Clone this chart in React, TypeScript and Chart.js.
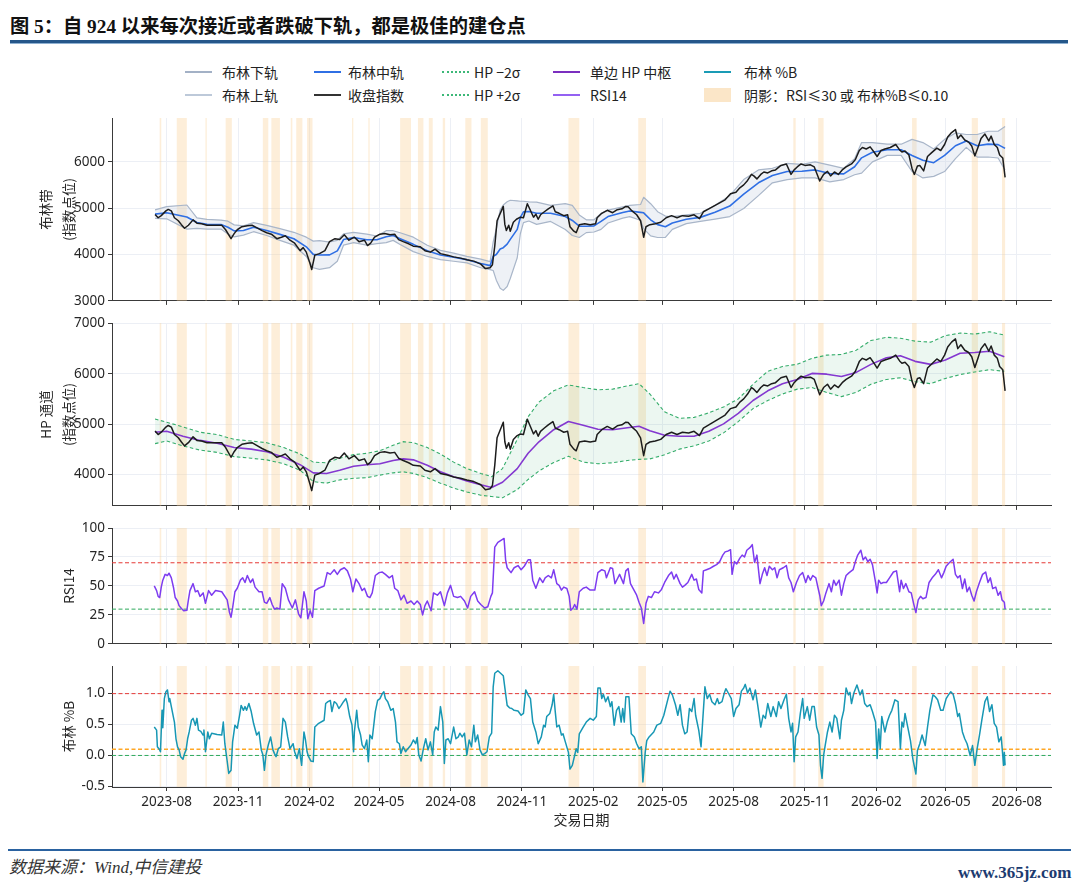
import React, { useEffect, useRef } from "react";
import { Chart, registerables } from "chart.js";

Chart.register(...registerables);

// ---------------- data ----------------
const xTickLabels = ["2023-08", "2023-11", "2024-02", "2024-05", "2024-08", "2024-11", "2025-02", "2025-05", "2025-08", "2025-11", "2026-02", "2026-05", "2026-08"];

const p1Ticks = [3000, 4000, 5000, 6000];
const p2Ticks = [4000, 5000, 6000, 7000];
const p3Ticks = [0, 25, 50, 75, 100];
const p4Ticks = [-0.5, 0, 0.5, 1.0];

const rsiLevels = [70, 30];
const pctbLevels = [1.0, 0.1, 0.0];

// 收盘指数 [date, close]
const closeIndex: [string, number][] = [
  ["2023-07-17", 4865], ["2023-07-21", 4794], ["2023-07-25", 4840], ["2023-07-31", 4942], ["2023-08-03", 4974], ["2023-08-07", 4942], ["2023-08-11", 4794], ["2023-08-16", 4729], ["2023-08-20", 4645], ["2023-08-24", 4568], ["2023-08-29", 4632],
  ["2023-09-04", 4748], ["2023-09-09", 4677], ["2023-09-15", 4665], ["2023-09-22", 4632], ["2023-09-30", 4632], ["2023-10-11", 4632], ["2023-10-16", 4535], ["2023-10-23", 4342], ["2023-10-27", 4452], ["2023-10-31", 4535],
  ["2023-11-06", 4600], ["2023-11-13", 4620], ["2023-11-19", 4632], ["2023-11-25", 4580], ["2023-12-02", 4516], ["2023-12-08", 4471], ["2023-12-14", 4439], ["2023-12-21", 4342], ["2023-12-27", 4374],
  ["2024-01-01", 4407], ["2024-01-07", 4310], ["2024-01-13", 4245], ["2024-01-20", 4084], ["2024-01-24", 4149], ["2024-01-28", 4052], ["2024-02-02", 3794], ["2024-02-04", 3678], ["2024-02-08", 3987], ["2024-02-14", 4020], ["2024-02-21", 4084], ["2024-02-27", 4278],
  ["2024-03-05", 4342], ["2024-03-11", 4323], ["2024-03-17", 4426], ["2024-03-23", 4310], ["2024-03-30", 4374], ["2024-04-05", 4278], ["2024-04-12", 4310], ["2024-04-16", 4194], ["2024-04-20", 4245], ["2024-04-25", 4374],
  ["2024-05-02", 4439], ["2024-05-08", 4452], ["2024-05-15", 4426], ["2024-05-21", 4439], ["2024-05-26", 4323], ["2024-06-01", 4278], ["2024-06-08", 4232], ["2024-06-14", 4181], ["2024-06-23", 4168], ["2024-06-29", 4084],
  ["2024-07-06", 4052], ["2024-07-12", 4116], ["2024-07-19", 4020], ["2024-07-28", 3987], ["2024-08-05", 3950], ["2024-08-14", 3923], ["2024-08-22", 3890], ["2024-08-31", 3858], ["2024-09-09", 3794], ["2024-09-15", 3697], ["2024-09-21", 3716], ["2024-09-24", 3780],
  ["2024-09-27", 4181], ["2024-09-30", 4729], ["2024-10-08", 5040], ["2024-10-10", 4650], ["2024-10-12", 4520], ["2024-10-15", 4632], ["2024-10-17", 4503], ["2024-10-21", 4697], ["2024-10-25", 4761], ["2024-10-30", 4806],
  ["2024-11-03", 4794], ["2024-11-08", 5097], ["2024-11-11", 4987], ["2024-11-16", 4806], ["2024-11-19", 4871], ["2024-11-22", 4761], ["2024-11-25", 4858], ["2024-11-30", 4923], ["2024-12-05", 4987], ["2024-12-11", 5052], ["2024-12-14", 4923], ["2024-12-19", 4890], ["2024-12-25", 4839], ["2024-12-30", 4858],
  ["2025-01-02", 4600], ["2025-01-07", 4503], ["2025-01-10", 4471], ["2025-01-14", 4645], ["2025-01-21", 4665], ["2025-01-28", 4645], ["2025-02-04", 4665], ["2025-02-06", 4794], ["2025-02-12", 4890], ["2025-02-19", 4955], ["2025-02-26", 4903],
  ["2025-03-04", 4968], ["2025-03-10", 4987], ["2025-03-15", 5039], ["2025-03-18", 5032], ["2025-03-23", 4942], ["2025-03-29", 4858], ["2025-04-03", 4729], ["2025-04-07", 4374], ["2025-04-10", 4600], ["2025-04-15", 4645], ["2025-04-22", 4665], ["2025-04-29", 4697],
  ["2025-05-06", 4794], ["2025-05-13", 4839], ["2025-05-20", 4794], ["2025-05-27", 4839], ["2025-06-04", 4826], ["2025-06-11", 4858], ["2025-06-18", 4774], ["2025-06-23", 4923], ["2025-06-30", 4987],
  ["2025-07-07", 5052], ["2025-07-14", 5116], ["2025-07-21", 5181], ["2025-07-28", 5310], ["2025-08-04", 5342], ["2025-08-09", 5439], ["2025-08-14", 5503], ["2025-08-19", 5600], ["2025-08-24", 5729], ["2025-08-27", 5697], ["2025-08-31", 5632],
  ["2025-09-05", 5729], ["2025-09-09", 5781], ["2025-09-14", 5761], ["2025-09-19", 5806], ["2025-09-24", 5826], ["2025-10-01", 5923], ["2025-10-08", 5955], ["2025-10-14", 5729], ["2025-10-18", 5826], ["2025-10-22", 5890], ["2025-10-27", 5955],
  ["2025-11-01", 5923], ["2025-11-08", 5935], ["2025-11-13", 5890], ["2025-11-16", 5761], ["2025-11-20", 5587], ["2025-11-25", 5729], ["2025-11-30", 5794], ["2025-12-04", 5697], ["2025-12-09", 5781], ["2025-12-14", 5729], ["2025-12-19", 5826], ["2025-12-24", 5890], ["2025-12-31", 5955],
  ["2026-01-05", 6052], ["2026-01-10", 6245], ["2026-01-14", 6310], ["2026-01-19", 6277], ["2026-01-24", 6323], ["2026-01-29", 6213], ["2026-02-02", 6116], ["2026-02-07", 6245], ["2026-02-12", 6277], ["2026-02-19", 6310], ["2026-02-26", 6374],
  ["2026-03-03", 6258], ["2026-03-06", 6213], ["2026-03-10", 6232], ["2026-03-15", 6148], ["2026-03-19", 5858], ["2026-03-22", 5729], ["2026-03-26", 5910], ["2026-03-29", 5923], ["2026-04-03", 5806], ["2026-04-08", 6116], ["2026-04-13", 6193], ["2026-04-20", 6297], ["2026-04-25", 6245], ["2026-04-30", 6374],
  ["2026-05-04", 6535], ["2026-05-09", 6632], ["2026-05-14", 6697], ["2026-05-17", 6503], ["2026-05-21", 6580], ["2026-05-26", 6471], ["2026-05-31", 6426], ["2026-06-04", 6342], ["2026-06-08", 6129], ["2026-06-12", 6310], ["2026-06-16", 6503], ["2026-06-21", 6600], ["2026-06-26", 6452], ["2026-06-29", 6555],
  ["2026-07-03", 6374], ["2026-07-07", 6310], ["2026-07-10", 6148], ["2026-07-14", 6084], ["2026-07-17", 5664],
];

// 布林带 [date, upper, mid, lower]
const bollinger: [string, number, number, number][] = [
  ["2023-07-17", 4965, 4872, 4780], ["2023-08-01", 5035, 4903, 4771], ["2023-08-27", 5069, 4809, 4549], ["2023-09-09", 4792, 4690, 4563], ["2023-09-22", 4757, 4653, 4549],
  ["2023-10-10", 4743, 4646, 4549], ["2023-10-19", 4720, 4590, 4445], ["2023-10-27", 4640, 4510, 4380], ["2023-11-08", 4618, 4519, 4420], ["2023-11-21", 4688, 4590, 4493],
  ["2023-12-08", 4630, 4520, 4410], ["2023-12-25", 4560, 4435, 4306], ["2024-01-12", 4480, 4341, 4202], ["2024-01-28", 4375, 4167, 3959], ["2024-02-06", 4290, 4003, 3716],
  ["2024-02-14", 4300, 3990, 3681], ["2024-02-27", 4270, 3993, 3716], ["2024-03-08", 4306, 4080, 3855], ["2024-03-16", 4445, 4323, 4202], ["2024-03-29", 4480, 4368, 4257],
  ["2024-04-15", 4440, 4320, 4202], ["2024-04-28", 4400, 4320, 4237], ["2024-05-10", 4514, 4385, 4257], ["2024-05-19", 4514, 4410, 4306], ["2024-05-28", 4470, 4343, 4216],
  ["2024-06-14", 4375, 4220, 4063], ["2024-07-02", 4202, 4080, 3959], ["2024-07-19", 4090, 3990, 3890], ["2024-08-05", 4029, 3942, 3855], ["2024-08-22", 3959, 3890, 3820],
  ["2024-09-09", 3900, 3808, 3716], ["2024-09-21", 3848, 3761, 3674], ["2024-09-25", 4275, 3965, 3655], ["2024-09-29", 4552, 4000, 3447], ["2024-10-04", 4965, 4120, 3275],
  ["2024-10-08", 5069, 4148, 3227], ["2024-10-13", 5140, 4225, 3310], ["2024-10-17", 5172, 4327, 3482], ["2024-10-26", 5158, 4544, 3930], ["2024-10-30", 5150, 4800, 4448],
  ["2024-11-03", 5150, 4920, 4690], ["2024-11-10", 5138, 4930, 4724], ["2024-11-20", 5130, 4890, 4650], ["2024-12-08", 5062, 4890, 4715], ["2024-12-27", 5097, 4820, 4542],
  ["2025-01-05", 5062, 4736, 4410], ["2025-01-14", 4854, 4611, 4368], ["2025-01-23", 4750, 4611, 4473], ["2025-02-02", 4750, 4618, 4486], ["2025-02-11", 4889, 4715, 4542],
  ["2025-02-20", 4958, 4820, 4681], ["2025-03-11", 5028, 4906, 4785], ["2025-03-20", 5062, 4940, 4819], ["2025-04-03", 5080, 4910, 4740], ["2025-04-07", 5236, 4900, 4560],
  ["2025-04-16", 5097, 4750, 4403], ["2025-04-25", 4924, 4646, 4368], ["2025-05-05", 4830, 4600, 4370], ["2025-05-14", 4820, 4681, 4542], ["2025-06-01", 4854, 4760, 4667],
  ["2025-06-19", 4889, 4802, 4715], ["2025-07-08", 5062, 4913, 4764], ["2025-07-27", 5271, 5045, 4820], ["2025-08-14", 5618, 5305, 4993], ["2025-09-02", 5826, 5548, 5271],
  ["2025-09-20", 5861, 5705, 5548], ["2025-10-09", 5965, 5791, 5618], ["2025-10-28", 5944, 5798, 5653], ["2025-11-14", 6000, 5826, 5653], ["2025-12-03", 5930, 5750, 5569],
  ["2025-12-21", 5861, 5740, 5618], ["2026-01-04", 6069, 5895, 5722], ["2026-01-13", 6416, 6086, 5757], ["2026-01-27", 6416, 6208, 6000], ["2026-02-15", 6381, 6260, 6139],
  ["2026-03-05", 6381, 6260, 6139], ["2026-03-19", 6485, 6138, 5791], ["2026-04-02", 6416, 6034, 5653], ["2026-04-16", 6278, 5982, 5687], ["2026-04-30", 6485, 6138, 5791],
  ["2026-05-14", 6624, 6347, 6069], ["2026-05-28", 6590, 6451, 6312], ["2026-06-11", 6590, 6347, 6104], ["2026-06-25", 6660, 6382, 6104], ["2026-07-08", 6660, 6372, 6083],
  ["2026-07-17", 6763, 6291, 5820],
];

// HP 通道 [date, trend, +2σ, −2σ]
const hpChannel: [string, number, number, number][] = [
  ["2023-07-17", 4839, 5103, 4613], ["2023-08-01", 4858, 5039, 4665], ["2023-08-22", 4761, 4945, 4568], ["2023-09-13", 4677, 4839, 4484], ["2023-10-05", 4620, 4794, 4439],
  ["2023-10-27", 4535, 4697, 4355], ["2023-11-18", 4503, 4665, 4323], ["2023-12-08", 4452, 4632, 4290], ["2023-12-30", 4342, 4535, 4213], ["2024-01-20", 4194, 4407, 4084],
  ["2024-02-06", 4032, 4245, 3858], ["2024-02-23", 4020, 4232, 3826], ["2024-03-11", 4084, 4323, 3891], ["2024-03-29", 4162, 4394, 3923], ["2024-04-15", 4194, 4420, 3936],
  ["2024-05-02", 4213, 4471, 3987], ["2024-05-19", 4278, 4581, 4032], ["2024-06-01", 4310, 4652, 4052], ["2024-06-14", 4290, 4632, 4020], ["2024-07-02", 4181, 4535, 3936],
  ["2024-07-19", 4052, 4407, 3826], ["2024-08-05", 3955, 4245, 3729], ["2024-08-22", 3871, 4116, 3652], ["2024-09-09", 3794, 4020, 3587], ["2024-09-23", 3742, 3955, 3560],
  ["2024-10-07", 3845, 4116, 3536], ["2024-10-26", 4116, 4697, 3697], ["2024-11-09", 4420, 5148, 3900], ["2024-11-23", 4650, 5439, 4068], ["2024-12-12", 4890, 5664, 4236],
  ["2024-12-31", 5052, 5781, 4360], ["2025-01-19", 4980, 5729, 4245], ["2025-02-07", 4900, 5684, 4213], ["2025-02-26", 4890, 5697, 4232], ["2025-03-17", 4930, 5761, 4278],
  ["2025-04-01", 4960, 5806, 4300], ["2025-04-15", 4870, 5600, 4310], ["2025-05-04", 4781, 5245, 4390], ["2025-05-23", 4761, 5116, 4503], ["2025-06-11", 4761, 5135, 4568],
  ["2025-06-30", 4858, 5226, 4665], ["2025-07-19", 5006, 5342, 4826], ["2025-08-07", 5213, 5503, 5052], ["2025-08-26", 5471, 5794, 5310], ["2025-09-14", 5664, 6052, 5471],
  ["2025-10-03", 5806, 6148, 5600], ["2025-10-22", 5890, 6193, 5697], ["2025-11-10", 6010, 6310, 5729], ["2025-11-29", 5995, 6374, 5632], ["2025-12-18", 5950, 6387, 5548],
  ["2026-01-06", 6030, 6471, 5632], ["2026-01-25", 6190, 6664, 5794], ["2026-02-14", 6320, 6729, 5890], ["2026-03-04", 6360, 6710, 5923], ["2026-03-23", 6250, 6652, 5845],
  ["2026-04-12", 6190, 6632, 5806], ["2026-05-01", 6277, 6761, 5910], ["2026-05-20", 6410, 6813, 5987], ["2026-06-08", 6425, 6793, 6039], ["2026-06-27", 6452, 6838, 6084],
  ["2026-07-16", 6342, 6774, 6052],
];

// RSI14 [date, value]
const rsi14: [string, number][] = [
  ["2023-07-16", 50], ["2023-07-19", 46], ["2023-07-21", 41], ["2023-07-23", 40], ["2023-07-25", 49], ["2023-07-27", 55], ["2023-07-30", 60], ["2023-08-02", 59], ["2023-08-04", 61], ["2023-08-07", 57],
  ["2023-08-10", 48], ["2023-08-12", 40], ["2023-08-15", 37], ["2023-08-17", 33], ["2023-08-20", 30.5], ["2023-08-23", 28.6], ["2023-08-27", 29], ["2023-08-29", 38], ["2023-08-31", 46], ["2023-09-04", 52],
  ["2023-09-07", 45], ["2023-09-10", 46], ["2023-09-13", 41], ["2023-09-17", 44], ["2023-09-20", 35], ["2023-09-24", 46], ["2023-09-28", 42], ["2023-10-03", 46], ["2023-10-11", 45], ["2023-10-18", 38],
  ["2023-10-21", 27], ["2023-10-23", 23], ["2023-10-25", 31], ["2023-10-28", 45], ["2023-10-31", 48], ["2023-11-04", 55], ["2023-11-07", 57], ["2023-11-10", 53], ["2023-11-13", 59], ["2023-11-17", 53],
  ["2023-11-20", 56], ["2023-11-23", 49], ["2023-11-28", 45], ["2023-12-02", 45], ["2023-12-05", 36], ["2023-12-08", 35], ["2023-12-12", 40], ["2023-12-15", 34], ["2023-12-18", 30], ["2023-12-21", 31],
  ["2023-12-25", 30], ["2023-12-28", 52], ["2024-01-01", 48], ["2024-01-05", 38], ["2024-01-10", 31], ["2024-01-14", 38], ["2024-01-18", 26], ["2024-01-21", 22.5], ["2024-01-25", 45], ["2024-01-28", 37],
  ["2024-01-30", 21.7], ["2024-02-02", 28.6], ["2024-02-05", 23], ["2024-02-08", 46], ["2024-02-13", 48], ["2024-02-20", 50], ["2024-02-24", 61.5], ["2024-02-28", 60], ["2024-03-04", 64], ["2024-03-08", 60],
  ["2024-03-12", 64], ["2024-03-17", 65.7], ["2024-03-21", 63], ["2024-03-25", 56], ["2024-03-28", 45], ["2024-04-01", 56], ["2024-04-05", 52], ["2024-04-09", 46], ["2024-04-12", 48], ["2024-04-16", 41],
  ["2024-04-19", 40], ["2024-04-22", 44], ["2024-04-26", 59], ["2024-05-01", 61.5], ["2024-05-05", 62], ["2024-05-09", 60], ["2024-05-14", 57], ["2024-05-18", 59], ["2024-05-21", 48], ["2024-05-25", 46],
  ["2024-05-29", 38], ["2024-06-02", 42], ["2024-06-06", 35], ["2024-06-11", 37], ["2024-06-15", 34], ["2024-06-19", 37], ["2024-06-23", 34], ["2024-06-26", 25], ["2024-06-29", 33], ["2024-07-02", 37],
  ["2024-07-07", 28.6], ["2024-07-10", 44], ["2024-07-15", 42], ["2024-07-19", 45], ["2024-07-24", 33], ["2024-07-28", 44], ["2024-08-01", 50.5], ["2024-08-05", 41], ["2024-08-10", 40], ["2024-08-14", 41],
  ["2024-08-19", 37], ["2024-08-23", 31], ["2024-08-27", 41], ["2024-09-01", 45], ["2024-09-05", 37], ["2024-09-09", 34], ["2024-09-14", 31], ["2024-09-18", 32], ["2024-09-22", 41], ["2024-09-24", 44],
  ["2024-09-27", 83.5], ["2024-10-01", 87.6], ["2024-10-09", 91], ["2024-10-11", 72.5], ["2024-10-13", 65.7], ["2024-10-18", 61.5], ["2024-10-22", 65.7], ["2024-10-27", 67.6], ["2024-10-31", 64], ["2024-11-04", 67],
  ["2024-11-09", 72.5], ["2024-11-12", 72.5], ["2024-11-15", 55], ["2024-11-19", 48], ["2024-11-24", 57], ["2024-11-28", 53], ["2024-12-01", 57], ["2024-12-05", 59], ["2024-12-09", 57], ["2024-12-12", 64],
  ["2024-12-16", 52], ["2024-12-19", 50.5], ["2024-12-22", 46.4], ["2024-12-25", 49], ["2024-12-29", 47.8], ["2025-01-01", 41], ["2025-01-03", 29], ["2025-01-06", 31], ["2025-01-08", 34], ["2025-01-11", 30],
  ["2025-01-14", 45], ["2025-01-19", 48], ["2025-01-23", 49], ["2025-01-28", 46.4], ["2025-02-03", 46.4], ["2025-02-07", 61.5], ["2025-02-12", 64], ["2025-02-16", 63], ["2025-02-18", 57], ["2025-02-23", 65.7],
  ["2025-02-26", 65], ["2025-03-01", 52], ["2025-03-04", 56], ["2025-03-07", 60], ["2025-03-12", 52], ["2025-03-15", 63], ["2025-03-18", 65], ["2025-03-21", 52], ["2025-03-25", 47], ["2025-03-29", 42],
  ["2025-04-01", 36], ["2025-04-04", 31], ["2025-04-07", 17.6], ["2025-04-10", 35], ["2025-04-13", 41], ["2025-04-17", 40], ["2025-04-21", 45], ["2025-04-26", 44], ["2025-04-30", 47], ["2025-05-04", 53],
  ["2025-05-09", 59], ["2025-05-13", 62], ["2025-05-16", 56], ["2025-05-19", 60], ["2025-05-24", 52], ["2025-05-27", 49], ["2025-05-30", 50.5], ["2025-06-03", 53], ["2025-06-08", 60], ["2025-06-11", 55],
  ["2025-06-14", 56], ["2025-06-17", 47], ["2025-06-21", 44], ["2025-06-23", 63], ["2025-06-27", 64], ["2025-07-01", 65], ["2025-07-06", 67], ["2025-07-10", 68.4], ["2025-07-14", 71], ["2025-07-18", 76.6],
  ["2025-07-21", 79.4], ["2025-07-25", 80.2], ["2025-07-28", 81.3], ["2025-07-30", 60], ["2025-08-02", 71], ["2025-08-05", 69], ["2025-08-09", 74], ["2025-08-12", 76.6], ["2025-08-15", 75], ["2025-08-18", 80.8],
  ["2025-08-22", 83], ["2025-08-25", 85.7], ["2025-08-28", 70.3], ["2025-08-31", 76.6], ["2025-09-04", 52], ["2025-09-07", 60], ["2025-09-10", 65.7], ["2025-09-13", 59], ["2025-09-16", 67], ["2025-09-20", 64],
  ["2025-09-23", 65.7], ["2025-09-26", 57], ["2025-09-29", 64], ["2025-10-04", 65.7], ["2025-10-08", 67.6], ["2025-10-11", 57], ["2025-10-14", 53], ["2025-10-17", 45], ["2025-10-21", 53], ["2025-10-25", 59],
  ["2025-10-29", 61.5], ["2025-11-02", 53], ["2025-11-05", 59], ["2025-11-08", 55], ["2025-11-11", 59], ["2025-11-15", 57], ["2025-11-18", 47.8], ["2025-11-20", 42], ["2025-11-22", 33], ["2025-11-25", 37],
  ["2025-11-28", 44], ["2025-12-02", 52], ["2025-12-05", 45], ["2025-12-08", 55], ["2025-12-11", 50.5], ["2025-12-15", 55], ["2025-12-18", 42], ["2025-12-21", 52], ["2025-12-24", 59], ["2025-12-28", 61.5],
  ["2026-01-02", 64], ["2026-01-05", 71], ["2026-01-08", 76.6], ["2026-01-12", 80.8], ["2026-01-15", 72.5], ["2026-01-18", 75], ["2026-01-21", 71], ["2026-01-24", 73], ["2026-01-27", 68.4], ["2026-01-31", 53],
  ["2026-02-02", 44], ["2026-02-04", 55], ["2026-02-07", 52], ["2026-02-10", 53], ["2026-02-14", 53], ["2026-02-18", 57], ["2026-02-23", 62], ["2026-02-27", 63], ["2026-03-03", 45], ["2026-03-05", 55],
  ["2026-03-08", 47.8], ["2026-03-11", 52], ["2026-03-15", 45], ["2026-03-18", 44], ["2026-03-21", 35], ["2026-03-24", 27], ["2026-03-27", 38], ["2026-03-30", 41], ["2026-04-02", 39], ["2026-04-06", 40],
  ["2026-04-10", 53], ["2026-04-14", 57], ["2026-04-18", 60], ["2026-04-22", 64], ["2026-04-26", 57], ["2026-04-29", 61.5], ["2026-05-02", 67], ["2026-05-06", 70], ["2026-05-11", 73], ["2026-05-14", 60],
  ["2026-05-17", 57], ["2026-05-20", 59], ["2026-05-23", 47.8], ["2026-05-26", 56], ["2026-05-29", 45], ["2026-06-01", 49], ["2026-06-04", 42], ["2026-06-07", 37], ["2026-06-10", 45], ["2026-06-14", 53],
  ["2026-06-18", 60], ["2026-06-22", 62], ["2026-06-25", 53], ["2026-06-28", 57], ["2026-07-01", 47.8], ["2026-07-05", 49], ["2026-07-08", 42], ["2026-07-11", 45], ["2026-07-13", 38], ["2026-07-16", 36],
  ["2026-07-17", 30],
];

// 布林 %B [date, value]
const pctB: [string, number][] = [
  ["2023-07-16", 0.46], ["2023-07-19", 0.41], ["2023-07-20", 0.14], ["2023-07-23", 0.09], ["2023-07-24", 0.06], ["2023-07-26", 0.73], ["2023-07-27", 0.45], ["2023-07-29", 0.92], ["2023-07-31", 1.03], ["2023-08-02", 1.06],
  ["2023-08-04", 0.87], ["2023-08-05", 0.92], ["2023-08-07", 0.79], ["2023-08-10", 0.6], ["2023-08-11", 0.54], ["2023-08-13", 0.27], ["2023-08-15", 0.14], ["2023-08-17", 0.09], ["2023-08-19", -0.02], ["2023-08-22", -0.06],
  ["2023-08-24", 0.03], ["2023-08-26", 0.09], ["2023-08-28", 0.27], ["2023-08-30", 0.38], ["2023-09-02", 0.57], ["2023-09-04", 0.6], ["2023-09-07", 0.49], ["2023-09-09", 0.6], ["2023-09-11", 0.41], ["2023-09-14", 0.39],
  ["2023-09-17", 0.33], ["2023-09-18", 0.41], ["2023-09-20", 0.06], ["2023-09-23", 0.38], ["2023-09-25", 0.27], ["2023-09-28", 0.36], ["2023-10-05", 0.34], ["2023-10-11", 0.33], ["2023-10-13", 0.54], ["2023-10-15", 0.19],
  ["2023-10-18", -0.09], ["2023-10-20", -0.29], ["2023-10-23", -0.24], ["2023-10-25", 0.22], ["2023-10-28", 0.49], ["2023-10-31", 0.44], ["2023-11-03", 0.65], ["2023-11-05", 0.81], ["2023-11-08", 0.73], ["2023-11-10", 0.79],
  ["2023-11-12", 0.73], ["2023-11-15", 0.84], ["2023-11-18", 0.71], ["2023-11-21", 0.52], ["2023-11-25", 0.33], ["2023-11-28", 0.38], ["2023-12-01", 0.09], ["2023-12-03", 0.01], ["2023-12-05", -0.24], ["2023-12-07", 0.01],
  ["2023-12-10", 0.17], ["2023-12-13", 0.3], ["2023-12-16", 0.09], ["2023-12-18", 0.03], ["2023-12-20", -0.02], ["2023-12-23", 0.11], ["2023-12-26", 0.14], ["2023-12-29", 0.6], ["2024-01-01", 0.54], ["2024-01-04", 0.3],
  ["2024-01-07", 0.11], ["2024-01-11", 0.19], ["2024-01-13", 0.06], ["2024-01-16", -0.05], ["2024-01-19", 0.11], ["2024-01-22", -0.16], ["2024-01-25", 0.38], ["2024-01-27", 0.25], ["2024-01-29", 0.06], ["2024-01-31", -0.02],
  ["2024-02-03", -0.09], ["2024-02-06", -0.1], ["2024-02-08", 0.46], ["2024-02-13", 0.52], ["2024-02-20", 0.57], ["2024-02-22", 0.84], ["2024-02-25", 0.87], ["2024-02-28", 0.89], ["2024-03-01", 0.71], ["2024-03-04", 0.87],
  ["2024-03-07", 0.84], ["2024-03-10", 0.76], ["2024-03-13", 0.81], ["2024-03-16", 0.87], ["2024-03-19", 0.92], ["2024-03-21", 0.84], ["2024-03-24", 0.63], ["2024-03-27", 0.49], ["2024-03-29", 0.06], ["2024-03-30", 0.38],
  ["2024-04-02", 0.73], ["2024-04-04", 0.46], ["2024-04-07", 0.33], ["2024-04-09", 0.17], ["2024-04-12", 0.11], ["2024-04-15", 0.25], ["2024-04-17", -0.1], ["2024-04-19", 0.33], ["2024-04-22", 0.27], ["2024-04-26", 0.71],
  ["2024-04-29", 0.89], ["2024-05-02", 0.92], ["2024-05-05", 1.0], ["2024-05-07", 1.03], ["2024-05-09", 0.92], ["2024-05-12", 0.87], ["2024-05-16", 0.73], ["2024-05-19", 0.76], ["2024-05-22", 0.54], ["2024-05-24", 0.22],
  ["2024-05-27", 0.19], ["2024-05-29", 0.03], ["2024-06-01", 0.14], ["2024-06-04", 0.06], ["2024-06-07", 0.11], ["2024-06-11", 0.17], ["2024-06-14", 0.25], ["2024-06-17", 0.19], ["2024-06-19", 0.29], ["2024-06-21", 0.01],
  ["2024-06-24", -0.09], ["2024-06-27", 0.11], ["2024-06-30", 0.27], ["2024-07-03", 0.09], ["2024-07-06", 0.22], ["2024-07-09", 0.01], ["2024-07-11", 0.38], ["2024-07-13", 0.46], ["2024-07-16", 0.41], ["2024-07-19", 0.79],
  ["2024-07-22", 0.54], ["2024-07-24", -0.13], ["2024-07-26", 0.25], ["2024-07-29", 0.27], ["2024-08-01", 0.19], ["2024-08-05", 0.46], ["2024-08-08", 0.27], ["2024-08-11", 0.3], ["2024-08-13", 0.36], ["2024-08-16", 0.3],
  ["2024-08-19", 0.36], ["2024-08-22", 0.01], ["2024-08-25", 0.25], ["2024-08-28", 0.14], ["2024-08-31", 0.49], ["2024-09-02", 0.22], ["2024-09-05", 0.33], ["2024-09-08", 0.09], ["2024-09-11", 0.01], ["2024-09-14", 0.03],
  ["2024-09-17", 0.06], ["2024-09-20", 0.3], ["2024-09-23", 0.36], ["2024-09-25", 1.11], ["2024-09-27", 1.33], ["2024-10-01", 1.37], ["2024-10-08", 1.29], ["2024-10-11", 1.0], ["2024-10-13", 0.81], ["2024-10-16", 0.77],
  ["2024-10-19", 0.76], ["2024-10-22", 0.73], ["2024-10-27", 0.72], ["2024-10-31", 0.65], ["2024-11-03", 0.68], ["2024-11-06", 1.06], ["2024-11-09", 0.98], ["2024-11-12", 0.92], ["2024-11-15", 0.54], ["2024-11-19", 0.38],
  ["2024-11-22", 0.19], ["2024-11-26", 0.3], ["2024-11-29", 0.49], ["2024-12-01", 0.46], ["2024-12-03", 0.63], ["2024-12-07", 0.68], ["2024-12-10", 0.82], ["2024-12-12", 0.99], ["2024-12-14", 0.71], ["2024-12-16", 0.46],
  ["2024-12-19", 0.49], ["2024-12-22", 0.33], ["2024-12-24", 0.35], ["2024-12-27", 0.22], ["2024-12-31", 0.05], ["2025-01-02", -0.22], ["2025-01-05", -0.16], ["2025-01-08", 0.0], ["2025-01-10", 0.11], ["2025-01-12", 0.05],
  ["2025-01-14", 0.35], ["2025-01-19", 0.46], ["2025-01-23", 0.54], ["2025-01-28", 0.6], ["2025-02-01", 0.57], ["2025-02-05", 0.63], ["2025-02-07", 1.09], ["2025-02-10", 1.09], ["2025-02-12", 0.92], ["2025-02-14", 0.99],
  ["2025-02-17", 0.87], ["2025-02-20", 0.95], ["2025-02-23", 0.79], ["2025-02-25", 0.87], ["2025-02-28", 0.49], ["2025-03-03", 0.73], ["2025-03-06", 0.79], ["2025-03-09", 0.54], ["2025-03-11", 0.76], ["2025-03-13", 0.54],
  ["2025-03-15", 0.95], ["2025-03-19", 0.95], ["2025-03-22", 0.35], ["2025-03-26", 0.3], ["2025-03-29", 0.19], ["2025-04-01", 0.11], ["2025-04-04", 0.14], ["2025-04-06", -0.43], ["2025-04-09", 0.05], ["2025-04-11", 0.24],
  ["2025-04-14", 0.3], ["2025-04-20", 0.38], ["2025-04-24", 0.49], ["2025-04-29", 0.52], ["2025-05-03", 0.65], ["2025-05-08", 0.9], ["2025-05-11", 1.04], ["2025-05-14", 0.98], ["2025-05-18", 0.82], ["2025-05-21", 0.65],
  ["2025-05-24", 0.82], ["2025-05-27", 0.49], ["2025-05-30", 0.35], ["2025-06-02", 0.38], ["2025-06-05", 0.76], ["2025-06-08", 0.71], ["2025-06-11", 0.92], ["2025-06-13", 0.65], ["2025-06-17", 0.41], ["2025-06-20", 0.14],
  ["2025-06-22", 0.54], ["2025-06-25", 1.11], ["2025-06-28", 0.92], ["2025-07-01", 0.99], ["2025-07-04", 0.87], ["2025-07-08", 0.82], ["2025-07-11", 0.92], ["2025-07-13", 0.84], ["2025-07-17", 0.87], ["2025-07-20", 1.01],
  ["2025-07-22", 1.08], ["2025-07-26", 0.99], ["2025-07-29", 0.92], ["2025-08-01", 0.63], ["2025-08-04", 0.76], ["2025-08-08", 0.82], ["2025-08-11", 1.04], ["2025-08-14", 1.09], ["2025-08-16", 1.15], ["2025-08-19", 1.01],
  ["2025-08-22", 1.09], ["2025-08-26", 0.9], ["2025-08-29", 1.06], ["2025-09-01", 0.82], ["2025-09-05", 0.46], ["2025-09-08", 0.65], ["2025-09-11", 0.6], ["2025-09-14", 0.84], ["2025-09-18", 0.63], ["2025-09-21", 0.79],
  ["2025-09-25", 0.63], ["2025-09-28", 0.87], ["2025-10-01", 0.76], ["2025-10-05", 0.9], ["2025-10-08", 0.99], ["2025-10-11", 0.6], ["2025-10-14", 0.38], ["2025-10-16", 0.52], ["2025-10-18", -0.1], ["2025-10-20", 0.3],
  ["2025-10-23", 0.38], ["2025-10-26", 0.68], ["2025-10-29", 0.92], ["2025-10-31", 0.6], ["2025-11-04", 0.79], ["2025-11-07", 0.57], ["2025-11-10", 0.79], ["2025-11-13", 0.79], ["2025-11-16", 0.46], ["2025-11-19", 0.33],
  ["2025-11-21", -0.16], ["2025-11-23", -0.37], ["2025-11-25", 0.0], ["2025-11-27", 0.16], ["2025-11-30", 0.38], ["2025-12-03", 0.54], ["2025-12-06", 0.38], ["2025-12-09", 0.65], ["2025-12-12", 0.6], ["2025-12-16", 0.27],
  ["2025-12-18", 0.57], ["2025-12-21", 0.73], ["2025-12-24", 1.09], ["2025-12-27", 0.98], ["2025-12-29", 1.02], ["2025-12-31", 0.84], ["2026-01-03", 1.01], ["2026-01-07", 1.14], ["2026-01-11", 0.98], ["2026-01-14", 1.06],
  ["2026-01-17", 0.84], ["2026-01-20", 0.79], ["2026-01-24", 0.82], ["2026-01-27", 0.71], ["2026-01-31", 0.54], ["2026-02-02", -0.05], ["2026-02-04", 0.43], ["2026-02-06", 0.11], ["2026-02-08", 0.63], ["2026-02-12", 0.38],
  ["2026-02-15", 0.54], ["2026-02-18", 0.65], ["2026-02-21", 0.73], ["2026-02-25", 0.9], ["2026-03-01", 0.87], ["2026-03-04", 0.11], ["2026-03-06", 0.54], ["2026-03-08", 0.46], ["2026-03-10", 0.68], ["2026-03-13", 0.49],
  ["2026-03-17", 0.24], ["2026-03-20", -0.05], ["2026-03-24", -0.3], ["2026-03-26", 0.08], ["2026-03-29", 0.19], ["2026-04-01", 0.33], ["2026-04-05", 0.16], ["2026-04-08", 0.46], ["2026-04-11", 0.73], ["2026-04-15", 0.98],
  ["2026-04-18", 0.95], ["2026-04-21", 0.9], ["2026-04-25", 0.73], ["2026-04-28", 0.73], ["2026-05-02", 0.92], ["2026-05-05", 0.98], ["2026-05-08", 1.03], ["2026-05-11", 0.99], ["2026-05-14", 0.84], ["2026-05-17", 0.63],
  ["2026-05-19", 0.68], ["2026-05-23", 0.38], ["2026-05-26", 0.27], ["2026-05-29", 0.19], ["2026-06-02", 0.0], ["2026-06-05", 0.16], ["2026-06-08", -0.16], ["2026-06-11", 0.11], ["2026-06-14", 0.33], ["2026-06-17", 0.57],
  ["2026-06-21", 0.87], ["2026-06-24", 0.95], ["2026-06-27", 0.71], ["2026-06-30", 0.82], ["2026-07-03", 0.52], ["2026-07-06", 0.46], ["2026-07-09", 0.22], ["2026-07-12", 0.3], ["2026-07-14", 0.0], ["2026-07-15", -0.16],
  ["2026-07-16", 0.05], ["2026-07-17", -0.16],
];

// 阴影区间 (RSI≤30 或 布林%B≤0.10) [start, end]
const shadeSpans: [string, string][] = [
  ["2023-07-23", "2023-07-25"], ["2023-08-14", "2023-08-27"], ["2023-09-20", "2023-09-21"], ["2023-10-16", "2023-10-24"], ["2023-12-03", "2023-12-10"],
  ["2023-12-14", "2023-12-25"], ["2024-01-08", "2024-01-10"], ["2024-01-15", "2024-01-23"], ["2024-01-29", "2024-02-05"], ["2024-03-27", "2024-03-28"],
  ["2024-04-17", "2024-04-18"], ["2024-05-28", "2024-06-11"], ["2024-06-20", "2024-06-27"], ["2024-07-04", "2024-07-09"], ["2024-07-22", "2024-07-25"],
  ["2024-08-20", "2024-08-28"], ["2024-09-09", "2024-09-18"], ["2024-12-31", "2025-01-14"], ["2025-03-31", "2025-04-10"], ["2025-10-17", "2025-10-20"],
  ["2025-11-18", "2025-11-25"], ["2026-03-19", "2026-03-25"], ["2026-06-04", "2026-06-12"], ["2026-07-13", "2026-07-17"],
];

// ---------------- helpers ----------------
const DAY_MS = 86400000;
const dayOf = (s: string) => {
  const p = s.split("-").map(Number);
  return Date.UTC(p[0], p[1] - 1, p[2] || 1) / DAY_MS;
};
const BASE = dayOf("2023-08-01");
const X_MIN = BASE - 70.5;
const X_MAX = BASE + 1140.2;
const xTickVals = xTickLabels.map(dayOf);

const FONT = "'Noto Sans', 'Noto Sans CJK SC', sans-serif";
const CJK = "'Noto Sans CJK SC', 'Noto Sans', sans-serif";
const TXT = "#262626";
const GRID = "#eceff5";
const AXIS = "#3a3a3a";
const SHADE = "rgba(250, 208, 150, 0.36)";

Chart.defaults.font.family = FONT;

const shadePlugin = {
  id: "shadeSpans",
  beforeDatasetsDraw(chart: any) {
    const { ctx, chartArea: a, scales } = chart;
    const xs = scales.x;
    ctx.save();
    ctx.beginPath();
    ctx.rect(a.left, a.top, a.right - a.left, a.bottom - a.top);
    ctx.clip();
    ctx.fillStyle = SHADE;
    shadeSpans.forEach(([s, e]) => {
      const x0 = xs.getPixelForValue(dayOf(s));
      const x1 = xs.getPixelForValue(dayOf(e));
      ctx.fillRect(x0, a.top, Math.max(1.3, x1 - x0), a.bottom - a.top);
    });
    ctx.restore();
  },
};

const levelPlugin = (levels: { v: number; color: string; width: number }[]) => ({
  id: "levelLines",
  beforeDatasetsDraw(chart: any) {
    const { ctx, chartArea: a, scales } = chart;
    ctx.save();
    levels.forEach((l) => {
      const y = scales.y.getPixelForValue(l.v);
      ctx.strokeStyle = l.color;
      ctx.lineWidth = l.width;
      ctx.setLineDash([4, 2.5]);
      ctx.beginPath();
      ctx.moveTo(a.left, y);
      ctx.lineTo(a.right, y);
      ctx.stroke();
    });
    ctx.restore();
  },
});

type PanelSpec = {
  top: number;
  plotH: number;
  bottom: boolean;
  yMin: number;
  yMax: number;
  yTicks: number[];
  yFmt: (v: number) => string;
  title: string[];
  titleLH: number;
  titlePad: number;
  datasets: any[];
  levels: { v: number; color: string; width: number }[];
};

const PAD_TOP = 12;
const XAXIS_SMALL = 5;
const XAXIS_BOTTOM = 44;

function panelHeight(p: PanelSpec) {
  return PAD_TOP + p.plotH + (p.bottom ? XAXIS_BOTTOM : XAXIS_SMALL);
}

function buildConfig(p: PanelSpec): any {
  return {
    type: "line",
    data: { datasets: p.datasets },
    plugins: [shadePlugin, levelPlugin(p.levels)],
    options: {
      animation: false,
      responsive: false,
      maintainAspectRatio: false,
      parsing: false,
      layout: { padding: { left: 0, right: 29, top: PAD_TOP, bottom: 0 } },
      plugins: { legend: { display: false }, tooltip: { enabled: false } },
      elements: { point: { radius: 0, hitRadius: 0 }, line: { tension: 0, borderJoinStyle: "round", borderCapStyle: "butt" } },
      events: [],
      scales: {
        x: {
          type: "linear",
          min: X_MIN,
          max: X_MAX,
          afterBuildTicks: (s: any) => {
            s.ticks = xTickVals.map((v) => ({ value: v }));
          },
          afterFit: (s: any) => {
            s.height = p.bottom ? XAXIS_BOTTOM : XAXIS_SMALL;
          },
          ticks: {
            display: p.bottom,
            autoSkip: false,
            maxRotation: 0,
            minRotation: 0,
            padding: 3,
            color: TXT,
            font: { family: FONT, size: 13.5 },
            callback: (v: number) => {
              const i = xTickVals.indexOf(v);
              return i >= 0 ? xTickLabels[i] : "";
            },
          },
          grid: { color: GRID, lineWidth: 1, tickColor: AXIS, tickLength: 4, drawTicks: true },
          border: { display: true, color: AXIS, width: 1 },
          title: {
            display: p.bottom,
            text: "交易日期",
            color: TXT,
            font: { family: CJK, size: 14, lineHeight: "16px" },
            padding: { top: 0, bottom: 3 },
          },
        },
        y: {
          type: "linear",
          min: p.yMin,
          max: p.yMax,
          afterBuildTicks: (s: any) => {
            s.ticks = p.yTicks.map((v) => ({ value: v }));
          },
          afterFit: (s: any) => {
            s.width = 112;
          },
          ticks: {
            padding: 3,
            color: TXT,
            font: { family: FONT, size: 13.5 },
            callback: (v: number) => p.yFmt(v),
          },
          grid: { color: GRID, lineWidth: 1, tickColor: AXIS, tickLength: 4, drawTicks: true },
          border: { display: true, color: AXIS, width: 1 },
          title: {
            display: true,
            text: p.title,
            color: TXT,
            font: { family: CJK, size: 13.5, lineHeight: `${p.titleLH}px` },
            padding: { top: p.titlePad, bottom: 0 },
          },
        },
      },
    },
  };
}

const line = (data: any[], color: string, width: number, extra: any = {}) => ({
  data,
  borderColor: color,
  backgroundColor: "transparent",
  borderWidth: width,
  pointRadius: 0,
  fill: false,
  ...extra,
});

const closePts = closeIndex.map(([d, v]) => ({ x: dayOf(d), y: v }));
const bollUpperPts = bollinger.map(([d, u]) => ({ x: dayOf(d), y: u }));
const bollMidPts = bollinger.map(([d, , m]) => ({ x: dayOf(d), y: m }));
const bollLowerPts = bollinger.map(([d, , , l]) => ({ x: dayOf(d), y: l }));
const hpTrendPts = hpChannel.map(([d, t]) => ({ x: dayOf(d), y: t }));
const hpUpperPts = hpChannel.map(([d, , u]) => ({ x: dayOf(d), y: u }));
const hpLowerPts = hpChannel.map(([d, , , l]) => ({ x: dayOf(d), y: l }));
const rsiPts = rsi14.map(([d, v]) => ({ x: dayOf(d), y: v }));
const pctbPts = pctB.map(([d, v]) => ({ x: dayOf(d), y: v }));

const intFmt = (v: number) => String(Math.round(v));
const oneDec = (v: number) => v.toFixed(1);

const panels: PanelSpec[] = [
  {
    top: 118 - PAD_TOP,
    plotH: 189,
    bottom: false,
    yMin: 3000,
    yMax: 6946,
    yTicks: p1Ticks,
    yFmt: intFmt,
    title: ["布林带", "(指数点位)"],
    titleLH: 23,
    titlePad: 34.5,
    levels: [],
    datasets: [
      line(closePts, "#1c1c1c", 1.5),
      line(bollMidPts, "#2f6fe4", 1.6),
      line(bollUpperPts, "#a9b6c9", 1.2),
      line(bollLowerPts, "#a9b6c9", 1.2, { fill: { target: 2 }, backgroundColor: "rgba(200, 209, 224, 0.3)" }),
    ],
  },
  {
    top: 323 - PAD_TOP,
    plotH: 189,
    bottom: false,
    yMin: 3374,
    yMax: 7013,
    yTicks: p2Ticks,
    yFmt: intFmt,
    title: ["HP 通道", "(指数点位)"],
    titleLH: 23,
    titlePad: 34.5,
    levels: [],
    datasets: [
      line(closePts, "#1c1c1c", 1.5),
      line(hpTrendPts, "#8438d0", 1.6),
      line(hpUpperPts, "#35ad6b", 1.1, { borderDash: [3.5, 2.5] }),
      line(hpLowerPts, "#35ad6b", 1.1, { borderDash: [3.5, 2.5], fill: { target: 2 }, backgroundColor: "rgba(70, 180, 115, 0.1)" }),
    ],
  },
  {
    top: 528 - PAD_TOP,
    plotH: 122,
    bottom: false,
    yMin: 0,
    yMax: 100,
    yTicks: p3Ticks,
    yFmt: intFmt,
    title: ["RSI14"],
    titleLH: 16,
    titlePad: 61,
    levels: [
      { v: rsiLevels[0], color: "#e53935", width: 1 },
      { v: rsiLevels[1], color: "#2eaa5c", width: 1 },
    ],
    datasets: [line(rsiPts, "#7d3cf0", 1.5)],
  },
  {
    top: 666 - PAD_TOP,
    plotH: 121,
    bottom: true,
    yMin: -0.51,
    yMax: 1.447,
    yTicks: p4Ticks,
    yFmt: oneDec,
    title: ["布林 %B"],
    titleLH: 16,
    titlePad: 61,
    levels: [
      { v: pctbLevels[0], color: "#e53935", width: 1 },
      { v: pctbLevels[1], color: "#ffa726", width: 1.6 },
      { v: pctbLevels[2], color: "#2eaa5c", width: 1 },
    ],
    datasets: [line(pctbPts, "#1797b4", 1.5)],
  },
];

type LegendItem = { sx: number; tx: number; y: number; label: string; color: string; kind: "solid" | "dotted" | "patch" };
const legendItems: LegendItem[] = [
  { sx: 185, tx: 222, y: 72, label: "布林下轨", color: "#a3b1c6", kind: "solid" },
  { sx: 185, tx: 222, y: 95, label: "布林上轨", color: "#bdc9d9", kind: "solid" },
  { sx: 314, tx: 348, y: 72, label: "布林中轨", color: "#2f6fe4", kind: "solid" },
  { sx: 314, tx: 348, y: 95, label: "收盘指数", color: "#333333", kind: "solid" },
  { sx: 442, tx: 474, y: 72, label: "HP −2σ", color: "#3cb878", kind: "dotted" },
  { sx: 442, tx: 474, y: 95, label: "HP +2σ", color: "#3cb878", kind: "dotted" },
  { sx: 553, tx: 590, y: 72, label: "单边 HP 中枢", color: "#7b2fbf", kind: "solid" },
  { sx: 553, tx: 590, y: 95, label: "RSI14", color: "#9461f2", kind: "solid" },
  { sx: 704, tx: 744, y: 72, label: "布林 %B", color: "#1a9bb5", kind: "solid" },
  { sx: 704, tx: 744, y: 95, label: "阴影：RSI≤30 或 布林%B≤0.10", color: "#fbe6c8", kind: "patch" },
];

function PanelCanvas({ spec }: { spec: PanelSpec }) {
  const ref = useRef<HTMLCanvasElement | null>(null);
  const h = panelHeight(spec);
  useEffect(() => {
    if (!ref.current) return;
    const chart = new Chart(ref.current, buildConfig(spec));
    return () => chart.destroy();
  }, [spec]);
  return (
    <canvas
      ref={ref}
      width={1080}
      height={h}
      style={{ position: "absolute", left: 0, top: spec.top, width: 1080, height: h }}
    />
  );
}

export default function App() {
  return (
    <div
      style={{
        position: "absolute",
        left: 0,
        top: 0,
        width: 1080,
        height: 888,
        background: "#ffffff",
        overflow: "hidden",
        fontFamily: CJK,
        color: TXT,
      }}
    >
      <div
        style={{
          position: "absolute",
          left: 10,
          top: 12,
          fontSize: 19.3,
          fontWeight: 700,
          lineHeight: "29px",
          fontFamily: "'Liberation Serif', 'Noto Sans CJK SC', serif",
          color: "#111",
          whiteSpace: "nowrap",
        }}
      >
        图 5：自 924 以来每次接近或者跌破下轨，都是极佳的建仓点
      </div>
      <div style={{ position: "absolute", left: 10, top: 40, width: 1058, height: 2.5, background: "#25578a" }} />
      <div style={{ position: "absolute", left: 10, top: 42.5, width: 1058, height: 1.2, background: "#8fb1d2" }} />

      {legendItems.map((it, i) => (
        <React.Fragment key={i}>
          {it.kind === "patch" ? (
            <div style={{ position: "absolute", left: it.sx, top: it.y - 7, width: 27, height: 14, background: it.color }} />
          ) : (
            <div
              style={{
                position: "absolute",
                left: it.sx,
                top: it.y - 1,
                width: 27,
                height: 0,
                borderTop: `2px ${it.kind === "dotted" ? "dotted" : "solid"} ${it.color}`,
              }}
            />
          )}
          <div
            style={{
              position: "absolute",
              left: it.tx,
              top: it.y - 10,
              fontSize: 14,
              lineHeight: "20px",
              whiteSpace: "nowrap",
              color: "#222",
            }}
          >
            {it.label}
          </div>
        </React.Fragment>
      ))}

      {panels.map((p, i) => (
        <PanelCanvas key={i} spec={p} />
      ))}

      <div style={{ position: "absolute", left: 8, top: 849, width: 1063, height: 2.2, background: "#2a62a0" }} />
      <div
        style={{
          position: "absolute",
          left: 9,
          top: 856,
          fontSize: 17,
          lineHeight: "24px",
          fontStyle: "italic",
          fontFamily: "'Liberation Serif', 'Noto Sans CJK SC', serif",
          color: "#333",
          whiteSpace: "nowrap",
        }}
      >
        数据来源：Wind,中信建投
      </div>
      <div
        style={{
          position: "absolute",
          left: 958,
          top: 862,
          fontSize: 17,
          lineHeight: "22px",
          fontWeight: 700,
          fontFamily: "'Liberation Serif', 'DejaVu Serif', serif",
          color: "#1c3b70",
          whiteSpace: "nowrap",
        }}
      >
        www.365jz.com
      </div>
    </div>
  );
}
